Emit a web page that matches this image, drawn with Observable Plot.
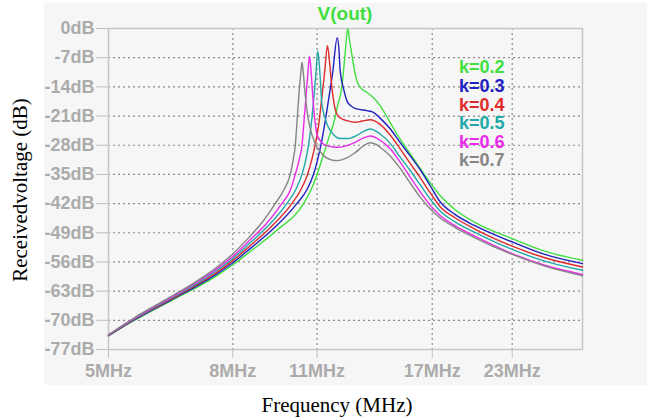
<!DOCTYPE html>
<html><head><meta charset="utf-8">
<script src="https://cdn.jsdelivr.net/npm/d3@7"></script>
<script src="https://cdn.jsdelivr.net/npm/@observablehq/plot@0.6"></script>
<style>
html,body{margin:0;padding:0;background:#fff;}
#chart svg{display:block;}
</style></head><body>
<div id="chart"></div>
<script>
// ---- data (frequency in MHz, level in dB) ----
const titleText = "V(out)";
const xTitle = "Frequency (MHz)";
const yTitle = "Receivedvoltage (dB)";
const xTicks = [5, 8, 11, 17, 23];
const yTicks = [0, -7, -14, -21, -28, -35, -42, -49, -56, -63, -70, -77];
const labels = ["k=0.2", "k=0.3", "k=0.4", "k=0.5", "k=0.6", "k=0.7"];
const colors = ["#3fdf3f", "#2020c0", "#dd2a2a", "#20a8a8", "#ea2aea", "#858585"];

const freqK02 = [5.00,5.50,5.86,6.32,6.69,7.08,7.49,7.98,8.54,9.45,10.45,10.80,11.00,11.34,11.51,11.70,11.89,12.08,12.23,12.35,12.44,12.54,12.65,12.78,12.99,13.27,13.59,13.96,14.49,15.05,15.63,16.23,16.85,17.50,18.52,19.97,23.00,26.01,30.00];
const dbK02 = [-73.75,-70.1,-67.9,-65.4,-63.5,-61.6,-59.5,-56.8,-53.5,-48.4,-42.0,-38.0,-35.0,-29.0,-26.0,-22.9,-18.5,-14.0,-6.1,0,-3.0,-6.1,-9.5,-12.5,-14.3,-15.3,-16.5,-18.5,-22.5,-26.5,-30.0,-33.5,-36.9,-40.0,-43.4,-46.5,-50.4,-53.4,-55.6];

const freqK03 = [5.00,5.50,5.86,6.32,6.69,7.08,7.49,7.98,8.54,9.33,10.19,10.60,10.85,11.02,11.16,11.32,11.49,11.67,11.87,11.96,12.00,12.16,12.31,12.51,12.78,13.27,13.61,13.96,14.49,15.05,15.63,16.23,16.85,17.50,18.52,19.97,23.00,26.01,30.00];
const dbK03 = [-73.69,-69.98,-67.74,-65.2,-63.26,-61.28,-59.1,-56.3,-52.8,-48.0,-42.0,-38.5,-35.0,-31.5,-28.0,-23.0,-17.0,-10.5,-2.2,-6.0,-10.0,-14.5,-17.3,-18.6,-19.3,-19.7,-20.1,-21.5,-24.0,-27.3,-30.5,-33.8,-37.6,-41.5,-44.6,-47.3,-51.2,-54.2,-56.4];

const freqK04 = [5.00,5.50,5.86,6.32,6.69,7.08,7.49,7.98,8.54,9.24,10.00,10.36,10.61,10.78,10.92,11.07,11.19,11.32,11.44,11.53,11.63,11.73,11.85,12.05,12.31,12.70,13.04,13.44,13.96,14.49,15.05,15.63,16.23,16.85,17.50,18.52,19.97,23.00,26.01,30.00];
const dbK04 = [-73.63,-69.86,-67.58,-65.0,-63.02,-60.96,-58.7,-55.8,-52.1,-47.6,-42.0,-38.5,-35.0,-31.5,-28.0,-23.0,-17.0,-10.5,-4.1,-8.0,-14.0,-18.0,-20.5,-21.6,-22.1,-22.5,-22.2,-21.9,-23.0,-25.5,-28.8,-32.3,-35.7,-39.3,-42.7,-45.4,-48.1,-52.2,-55.0,-57.2];

const freqK05 = [5.00,5.50,5.86,6.32,6.69,7.08,7.49,7.98,8.54,9.16,9.81,10.16,10.39,10.54,10.65,10.76,10.86,10.95,11.03,11.11,11.20,11.34,11.48,11.73,12.00,12.37,12.80,13.14,13.44,13.96,14.49,15.05,15.63,16.23,16.85,17.50,18.52,19.97,23.00,26.01,30.00];
const dbK05 = [-73.57,-69.74,-67.42,-64.8,-62.78,-60.64,-58.3,-55.3,-51.4,-47.2,-42.0,-38.5,-35.0,-31.5,-28.0,-23.0,-17.0,-11.0,-5.4,-10.0,-18.0,-21.5,-23.7,-25.6,-26.4,-26.4,-25.6,-24.6,-24.1,-25.3,-27.5,-30.8,-34.0,-37.4,-40.8,-43.7,-46.4,-48.9,-53.0,-55.8,-58.0];

const freqK06 = [5.00,5.50,5.86,6.32,6.69,7.08,7.49,7.98,8.54,9.07,9.63,9.94,10.13,10.28,10.39,10.46,10.54,10.62,10.69,10.75,10.82,10.90,10.99,11.17,11.41,11.85,12.23,12.70,13.09,13.44,13.96,14.49,15.05,15.63,16.23,16.85,17.50,18.52,19.97,23.00,26.01,30.00];
const dbK06 = [-73.5,-69.6,-67.26,-64.6,-62.54,-60.32,-57.9,-54.8,-50.7,-46.9,-42.0,-38.8,-35.0,-31.5,-28.0,-23.0,-17.0,-11.0,-6.7,-10.0,-16.0,-21.5,-25.3,-27.2,-28.1,-28.5,-28.2,-27.3,-26.3,-25.8,-26.8,-28.8,-32.0,-35.6,-39.1,-42.3,-44.8,-47.3,-49.8,-54.0,-56.8,-59.0];

const freqK07 = [5.00,5.50,5.86,6.32,6.69,7.08,7.49,7.98,8.54,8.96,9.39,9.72,9.94,10.05,10.13,10.20,10.28,10.34,10.39,10.44,10.52,10.62,10.72,10.92,11.13,11.34,11.60,11.87,12.23,12.70,13.09,13.44,13.75,13.96,14.49,15.05,15.63,16.23,16.85,17.50,18.52,19.97,23.00,26.01,30.00];
const dbK07 = [-73.45,-69.5,-67.1,-64.4,-62.3,-60.0,-57.5,-54.2,-49.8,-46.3,-42.0,-38.5,-35.0,-31.5,-28.0,-22.0,-15.0,-11.0,-8.1,-10.5,-16.0,-21.0,-24.0,-27.6,-29.5,-30.8,-31.5,-31.7,-31.2,-29.8,-28.2,-27.4,-27.8,-28.5,-30.5,-33.5,-37.0,-40.4,-43.2,-45.4,-47.7,-50.2,-54.2,-57.0,-59.3];

const freqs = [freqK02, freqK03, freqK04, freqK05, freqK06, freqK07];
const dbs = [dbK02, dbK03, dbK04, dbK05, dbK06, dbK07];

// ---- build tables ----
const series = labels.map((k, i) => freqs[i].map((f, j) => ({f, db: dbs[i][j], k})));
const gridX = xTicks.slice(1);
const gridY = yTicks.slice(1, -1);

const sans = '"Liberation Sans", Arial, sans-serif';
const serif = '"Liberation Serif", "Times New Roman", serif';
const tickText = "#ababab";

const chart = Plot.plot({
  width: 647, height: 418,
  marginLeft: 108, marginRight: 65, marginTop: 28, marginBottom: 69,
  style: {background: "white", fontFamily: sans, fontSize: "18px", fontWeight: "bold", color: tickText},
  x: {type: "log", domain: [5, 30], label: null},
  y: {domain: [-77, 0], label: null},
  marks: [
    Plot.ruleX(gridX, {stroke: "#8a8a8a", strokeWidth: 1.2, strokeDasharray: "2,3"}),
    Plot.ruleY(gridY, {stroke: "#8a8a8a", strokeWidth: 1.2, strokeDasharray: "2,3"}),
    Plot.frame({stroke: "#c6c6c6", strokeWidth: 1.5}),
    Plot.axisX(xTicks, {tickFormat: () => "", tickSize: 9, stroke: "#c0c0c0", label: null}),
    Plot.text(xTicks, {x: d => d, frameAnchor: "bottom", dy: 15, lineAnchor: "top", text: d => d + "MHz", fill: tickText}),
    Plot.axisY(yTicks, {tickFormat: d => d + "dB", tickSize: 12, tickPadding: 2, stroke: "#c0c0c0", label: null}),
    ...series.map((s, i) => Plot.line(s, {x: "f", y: "db", stroke: colors[i], strokeWidth: 1.4, curve: "monotone-x"}))
  ]
});

const svg = d3.select(chart);
svg.insert("rect", ":first-child")
  .attr("x", 44).attr("y", 3).attr("width", 603).attr("height", 382).attr("fill", "#f6f6f6");

svg.append("text")
  .attr("x", 345).attr("y", 13).attr("dy", "0.35em").attr("text-anchor", "middle")
  .attr("fill", colors[0]).style("font", "bold 19px " + sans).text(titleText);

labels.forEach((t, i) => {
  svg.append("text")
    .attr("x", 459).attr("y", 67 + i * 18.6).attr("dy", "0.36em").attr("text-anchor", "start")
    .attr("fill", colors[i]).style("font", "bold 18px " + sans).text(t);
});

svg.append("text")
  .attr("x", 337).attr("y", 412).attr("text-anchor", "middle")
  .attr("fill", "#000").style("font", "normal 21px " + serif).text(xTitle);

svg.append("text")
  .attr("transform", "translate(27,190) rotate(-90)").attr("text-anchor", "middle")
  .attr("fill", "#000").style("font", "normal 21px " + serif).text(yTitle);

document.getElementById("chart").append(chart);
</script>
</body></html>
